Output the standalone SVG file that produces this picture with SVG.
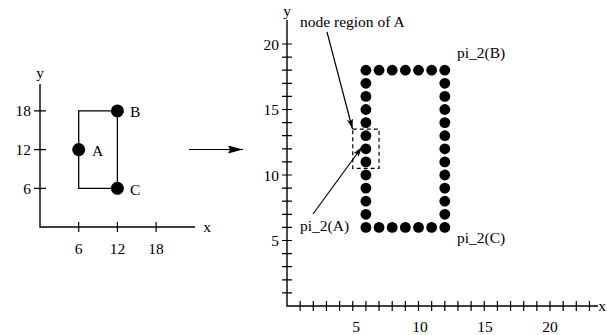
<svg xmlns="http://www.w3.org/2000/svg" width="607" height="335" viewBox="0 0 607 335">
<defs>
<marker id="ah" viewBox="0 0 10 6" refX="10" refY="3" markerWidth="10" markerHeight="6" markerUnits="userSpaceOnUse" orient="auto">
<path d="M0,0 L10,3 L0,6 L2,3 Z" fill="#000"/>
</marker>
<marker id="ahb" viewBox="0 0 15 8" refX="15" refY="4" markerWidth="15" markerHeight="8" markerUnits="userSpaceOnUse" orient="auto">
<path d="M0,0 L15,4 L0,8 L2,4 Z" fill="#000"/>
</marker>
</defs>
<style>
text{font-family:"Liberation Serif","Times New Roman",serif;font-size:15.5px;fill:#000}
.ax{stroke:#000;stroke-width:1.4;fill:none}
.tk{stroke:#000;stroke-width:1.2;fill:none}
.rect{stroke:#000;stroke-width:1.3;fill:none}
.dot{fill:#000}
.r{text-anchor:end}
.c{text-anchor:middle}
.ln{stroke:#000;stroke-width:1.2;fill:none}
</style>
<rect width="607" height="335" fill="#fff"/>

<g id="left-axes">
<path class="ax" d="M40,84 V227 H195"/>
<path class="tk" d="M34,110.9 H46 M34,149.6 H46 M34,188.3 H46 M78.7,222 V232 M117.4,222 V232 M156.1,222 V232"/>
<text x="40" y="78" class="c">y</text>
<text x="207" y="232" class="c">x</text>
<text x="31" y="116" class="r">18</text>
<text x="31" y="155" class="r">12</text>
<text x="31" y="193.5" class="r">6</text>
<text x="78.7" y="254" class="c">6</text>
<text x="117.4" y="254" class="c">12</text>
<text x="156.1" y="254" class="c">18</text>
</g>
<path class="rect" d="M78.7,149.6 V110.9 H117.4 V188.3 H78.7 Z"/>
<g id="A"><circle class="dot" cx="78.7" cy="149.6" r="6.5"/><text x="92" y="155.5">A</text></g>
<g id="B"><circle class="dot" cx="117.4" cy="110.9" r="6.5"/><text x="130" y="117">B</text></g>
<g id="C"><circle class="dot" cx="117.4" cy="188.3" r="6.5"/><text x="130" y="194.5">C</text></g>

<g id="right-axes">
<path class="ax" d="M287,20 V306 H598"/>
<path class="tk" d="M300.15,301V311M313.3,301V311M326.45,301V311M339.6,301V311M352.75,301V311M365.9,301V311M379.05,301V311M392.2,301V311M405.35,301V311M418.5,301V311M431.65,301V311M444.8,301V311M457.95,301V311M471.1,301V311M484.25,301V311M497.4,301V311M510.55,301V311M523.7,301V311M536.85,301V311M550,301V311M563.15,301V311M576.3,301V311M589.45,301V311"/>
<path class="tk" d="M282,292.9H292M282,279.8H292M282,266.7H292M282,253.6H292M282,240.5H292M282,227.4H292M282,214.3H292M282,201.2H292M282,188.1H292M282,175H292M282,161.9H292M282,148.8H292M282,135.7H292M282,122.6H292M282,109.5H292M282,96.4H292M282,83.3H292M282,70.2H292M282,57.1H292M282,44H292"/>
<text x="287" y="16" class="c">y</text>
<text x="602" y="311" class="c">x</text>
<text x="279" y="49.5" class="r">20</text>
<text x="279" y="115" class="r">15</text>
<text x="279" y="180.5" class="r">10</text>
<text x="279" y="246" class="r">5</text>
<text x="356" y="332" class="c">5</text>
<text x="420" y="332" class="c">10</text>
<text x="485" y="332" class="c">15</text>
<text x="550" y="332" class="c">20</text>
</g>

<g id="pi2-region">
<circle class="dot" cx="365.9" cy="70.2" r="5.4"/><circle class="dot" cx="379.05" cy="70.2" r="5.4"/><circle class="dot" cx="392.2" cy="70.2" r="5.4"/><circle class="dot" cx="405.35" cy="70.2" r="5.4"/><circle class="dot" cx="418.5" cy="70.2" r="5.4"/><circle class="dot" cx="431.65" cy="70.2" r="5.4"/><circle class="dot" cx="444.8" cy="70.2" r="5.4"/>
<circle class="dot" cx="365.9" cy="227.4" r="5.4"/><circle class="dot" cx="379.05" cy="227.4" r="5.4"/><circle class="dot" cx="392.2" cy="227.4" r="5.4"/><circle class="dot" cx="405.35" cy="227.4" r="5.4"/><circle class="dot" cx="418.5" cy="227.4" r="5.4"/><circle class="dot" cx="431.65" cy="227.4" r="5.4"/><circle class="dot" cx="444.8" cy="227.4" r="5.4"/>
<circle class="dot" cx="365.9" cy="83.3" r="5.4"/><circle class="dot" cx="365.9" cy="96.4" r="5.4"/><circle class="dot" cx="365.9" cy="109.5" r="5.4"/><circle class="dot" cx="365.9" cy="122.6" r="5.4"/><circle class="dot" cx="365.9" cy="135.7" r="5.4"/><circle class="dot" cx="365.9" cy="148.8" r="5.4"/><circle class="dot" cx="365.9" cy="161.9" r="5.4"/><circle class="dot" cx="365.9" cy="175" r="5.4"/><circle class="dot" cx="365.9" cy="188.1" r="5.4"/><circle class="dot" cx="365.9" cy="201.2" r="5.4"/><circle class="dot" cx="365.9" cy="214.3" r="5.4"/>
<circle class="dot" cx="444.8" cy="83.3" r="5.4"/><circle class="dot" cx="444.8" cy="96.4" r="5.4"/><circle class="dot" cx="444.8" cy="109.5" r="5.4"/><circle class="dot" cx="444.8" cy="122.6" r="5.4"/><circle class="dot" cx="444.8" cy="135.7" r="5.4"/><circle class="dot" cx="444.8" cy="148.8" r="5.4"/><circle class="dot" cx="444.8" cy="161.9" r="5.4"/><circle class="dot" cx="444.8" cy="175" r="5.4"/><circle class="dot" cx="444.8" cy="188.1" r="5.4"/><circle class="dot" cx="444.8" cy="201.2" r="5.4"/><circle class="dot" cx="444.8" cy="214.3" r="5.4"/>
</g>
<g id="node-region-A">
<rect x="352.75" y="129.15" width="26.3" height="39.3" fill="none" stroke="#000" stroke-width="1.2" stroke-dasharray="4,3"/>
</g>
<g id="labels">
<text x="300" y="27">node region of A</text>
<text x="300" y="231">pi_2(A)</text>
<text x="457" y="58">pi_2(B)</text>
<text x="457" y="243">pi_2(C)</text>
</g>

<g id="connectors">
<line class="ln" x1="189" y1="149.5" x2="243" y2="149.5" marker-end="url(#ahb)"/>
<line class="ln" x1="327" y1="32" x2="352.5" y2="129" marker-end="url(#ah)"/>
<line class="ln" x1="313" y1="214" x2="362" y2="147" marker-end="url(#ah)"/>
</g>
</svg>
